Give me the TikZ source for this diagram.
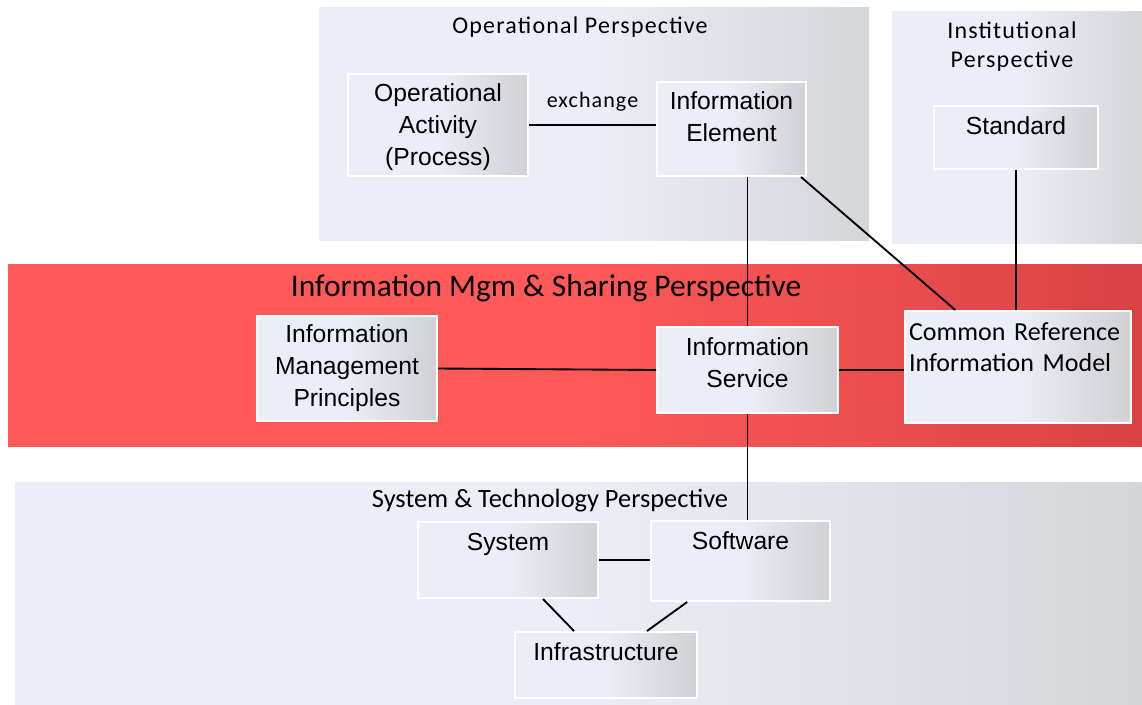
\documentclass[tikz,border=0pt]{standalone}
\usepackage{fontspec}
\setmainfont{Liberation Sans}
\newfontfamily\calibri{Carlito}
\newfontfamily\calibrisp[LetterSpace=5]{Carlito}
\usepackage{tikz}

\begin{document}
\begin{tikzpicture}[x=0.75pt,y=-0.75pt,
    	 panel/.style={left color=panellight,right color=panelgrey,middle color=panellight},
    	 box/.style={rectangle,draw=white,line width=1.5pt,inner sep=0pt,align=center,
    	   left color=panellight,right color=boxgrey,middle color=panellight,
    	   font=\fontsize{18.5}{24}\selectfont},
    	 top box/.style={box,anchor=north,text height=21pt},
    	 title/.style={font=\calibrisp\fontsize{18}{21.75}\selectfont,align=center}]

	\definecolor{panellight}{RGB}{235,238,246}
	\definecolor{panelgrey}{RGB}{213,214,218}
	\definecolor{boxgrey}{RGB}{208,209,213}
	\definecolor{redlight}{RGB}{255,89,89}
	\definecolor{reddark}{RGB}{217,67,67}

	\useasboundingbox (0,0) rectangle (1142,704);

	% perspectives
	\shade[panel] (319,7) rectangle (869,240);
	\shade[panel] (892,11) rectangle (1142,243);
	\shade[left color=redlight,right color=reddark,middle color=redlight] (8,264) rectangle (1142,446);
	\shade[panel] (15,482) rectangle (1142,704);

	\draw (580,27)   node[title] (optitle) {Operational Perspective};
	\draw (1012,47)  node[title] (insttitle) {Institutional\\Perspective};
	\draw (546,288)  node[font=\calibri\fontsize{23.6}{27}\selectfont] (imstitle) {Information Mgm \& Sharing Perspective};
	\draw (550,501)  node[font=\calibri\fontsize{19.8}{24}\selectfont] (sttitle) {System \& Technology Perspective};

	% elements
	\draw (438,73)    node[top box,minimum width=135pt,text height=68.25pt,text depth=8.25pt] (opact) {Operational\\Activity\\(Process)};
	\draw (731.5,81)  node[top box,minimum width=111.75pt,text height=44.25pt,text depth=26.25pt] (infoel) {Information\\Element};
	\draw (1016,105)  node[top box,minimum width=123pt,text depth=26.25pt] (standard) {Standard};
	\draw (347,368.5) node[box,minimum width=135pt,minimum height=78.75pt] (imp) {Information\\Management\\Principles};
	\draw (747.5,326) node[top box,minimum width=135.75pt,text height=45pt,text depth=19.5pt] (infoserv) {Information\\Service};
	\draw (1018,310)  node[top box,align=left,inner xsep=3pt,text width=163.5pt,text height=21.75pt,text depth=62.25pt,
	                       font=\calibri\fontsize{19.5}{23.25}\selectfont] (crim) {Common Reference\\Information Model};
	\draw (508,521)   node[top box,minimum width=135pt,text depth=36pt] (system) {System};
	\draw (740.5,520) node[top box,minimum width=134.25pt,text depth=39pt] (software) {Software};
	\draw (606,631)   node[top box,minimum width=136.5pt,text depth=28.5pt] (infra) {Infrastructure};

	\path[line width=1.4pt]
    (opact.east) edge node[midway,above=6pt,font=\calibrisp\fontsize{16.5}{20}\selectfont] {exchange} (opact.east -| infoel.west)
    (infoserv.north) edge (infoserv.north |- infoel.south)
    ([xshift=-4.5pt]infoel.south east) edge ([xshift=-47pt]crim.north)
    (standard.south) edge (standard.south |- crim.north)
    (imp.east) edge (infoserv.west)
    (infoserv.east) edge (infoserv.east -| crim.west)
    (infoserv.south) edge (infoserv.south |- software.north)
    (system.east) edge (system.east -| software.west)
    ([xshift=26.25pt]system.south) edge ([xshift=-24pt]infra.north)
    ([xshift=-40pt]software.south) edge ([xshift=30.75pt]infra.north);

\end{tikzpicture}
\end{document}
